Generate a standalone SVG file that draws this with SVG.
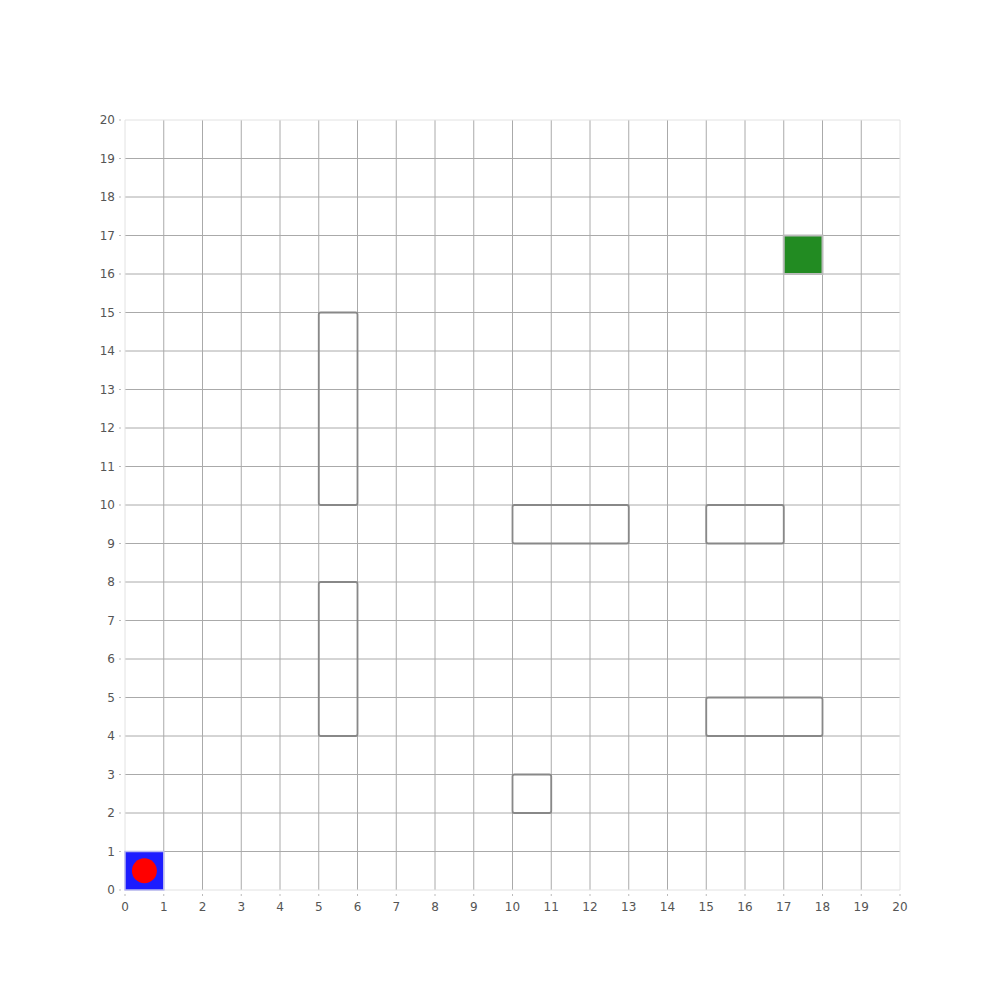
<svg xmlns="http://www.w3.org/2000/svg" width="1000" height="1000" viewBox="0 0 1000 1000">
<style>
.g{stroke:#aaaaaa;stroke-width:1;fill:none}
.b{stroke:#e2e2e2;stroke-width:1;fill:none}
.ob{fill:none;stroke:#888888;stroke-width:1.8}
.t{font-family:"DejaVu Sans",sans-serif;font-size:12px;fill:#555}
.yl{text-anchor:end}
.xl{text-anchor:middle}
.tk{stroke:#bbbbbb;stroke-width:1;fill:none}
</style>
<rect width="1000" height="1000" fill="#ffffff"/>
<g id="grid">
<path class="g" d="M163.75 120V890M202.5 120V890M241.25 120V890M280 120V890M318.75 120V890M357.5 120V890M396.25 120V890M435 120V890M473.75 120V890M512.5 120V890M551.25 120V890M590 120V890M628.75 120V890M667.5 120V890M706.25 120V890M745 120V890M783.75 120V890M822.5 120V890M861.25 120V890"/>
<path class="g" d="M125 851.5H900M125 813H900M125 774.5H900M125 736H900M125 697.5H900M125 659H900M125 620.5H900M125 582H900M125 543.5H900M125 505H900M125 466.5H900M125 428H900M125 389.5H900M125 351H900M125 312.5H900M125 274H900M125 235.5H900M125 197H900M125 158.5H900"/>
<path class="b" d="M125 120V890M900 120V890M125 120H900M125 890H900"/>
</g>
<g id="obstacles">
<rect id="obs-a" class="ob" x="318.75" y="312.5" width="38.75" height="192.5" rx="2"/>
<rect id="obs-b" class="ob" x="318.75" y="582" width="38.75" height="154" rx="2"/>
<rect id="obs-c" class="ob" x="512.5" y="505" width="116.25" height="38.5" rx="2"/>
<rect id="obs-d" class="ob" x="706.25" y="505" width="77.5" height="38.5" rx="2"/>
<rect id="obs-e" class="ob" x="706.25" y="697.5" width="116.25" height="38.5" rx="2"/>
<rect id="obs-f" class="ob" x="512.5" y="774.5" width="38.75" height="38.5" rx="2"/>
</g>
<g id="goal">
<rect x="783.75" y="235.5" width="38.75" height="38.5" fill="#228b22" stroke="#bbbbbb" stroke-width="2"/>
</g>
<g id="start">
<rect x="125" y="851.5" width="38.75" height="38.5" fill="#1c1cff" stroke="#b8b8f0" stroke-width="1.5"/>
<circle cx="144.4" cy="870.75" r="12.5" fill="#ff0000"/>
</g>
<g id="ticks">
<path class="tk" d="M119 890h2M119 851.5h2M119 813h2M119 774.5h2M119 736h2M119 697.5h2M119 659h2M119 620.5h2M119 582h2M119 543.5h2M119 505h2M119 466.5h2M119 428h2M119 389.5h2M119 351h2M119 312.5h2M119 274h2M119 235.5h2M119 197h2M119 158.5h2M119 120h2"/>
<path class="tk" d="M125 894v2M163.75 894v2M202.5 894v2M241.25 894v2M280 894v2M318.75 894v2M357.5 894v2M396.25 894v2M435 894v2M473.75 894v2M512.5 894v2M551.25 894v2M590 894v2M628.75 894v2M667.5 894v2M706.25 894v2M745 894v2M783.75 894v2M822.5 894v2M861.25 894v2M900 894v2"/>
</g>
<g id="yaxis">
<text class="t yl" x="115" y="894">0</text>
<text class="t yl" x="115" y="855.5">1</text>
<text class="t yl" x="115" y="817">2</text>
<text class="t yl" x="115" y="778.5">3</text>
<text class="t yl" x="115" y="740">4</text>
<text class="t yl" x="115" y="701.5">5</text>
<text class="t yl" x="115" y="663">6</text>
<text class="t yl" x="115" y="624.5">7</text>
<text class="t yl" x="115" y="586">8</text>
<text class="t yl" x="115" y="547.5">9</text>
<text class="t yl" x="115" y="509">10</text>
<text class="t yl" x="115" y="470.5">11</text>
<text class="t yl" x="115" y="432">12</text>
<text class="t yl" x="115" y="393.5">13</text>
<text class="t yl" x="115" y="355">14</text>
<text class="t yl" x="115" y="316.5">15</text>
<text class="t yl" x="115" y="278">16</text>
<text class="t yl" x="115" y="239.5">17</text>
<text class="t yl" x="115" y="201">18</text>
<text class="t yl" x="115" y="162.5">19</text>
<text class="t yl" x="115" y="124">20</text>
</g>
<g id="xaxis">
<text class="t xl" x="125" y="911">0</text>
<text class="t xl" x="163.75" y="911">1</text>
<text class="t xl" x="202.5" y="911">2</text>
<text class="t xl" x="241.25" y="911">3</text>
<text class="t xl" x="280" y="911">4</text>
<text class="t xl" x="318.75" y="911">5</text>
<text class="t xl" x="357.5" y="911">6</text>
<text class="t xl" x="396.25" y="911">7</text>
<text class="t xl" x="435" y="911">8</text>
<text class="t xl" x="473.75" y="911">9</text>
<text class="t xl" x="512.5" y="911">10</text>
<text class="t xl" x="551.25" y="911">11</text>
<text class="t xl" x="590" y="911">12</text>
<text class="t xl" x="628.75" y="911">13</text>
<text class="t xl" x="667.5" y="911">14</text>
<text class="t xl" x="706.25" y="911">15</text>
<text class="t xl" x="745" y="911">16</text>
<text class="t xl" x="783.75" y="911">17</text>
<text class="t xl" x="822.5" y="911">18</text>
<text class="t xl" x="861.25" y="911">19</text>
<text class="t xl" x="900" y="911">20</text>
</g>
</svg>
